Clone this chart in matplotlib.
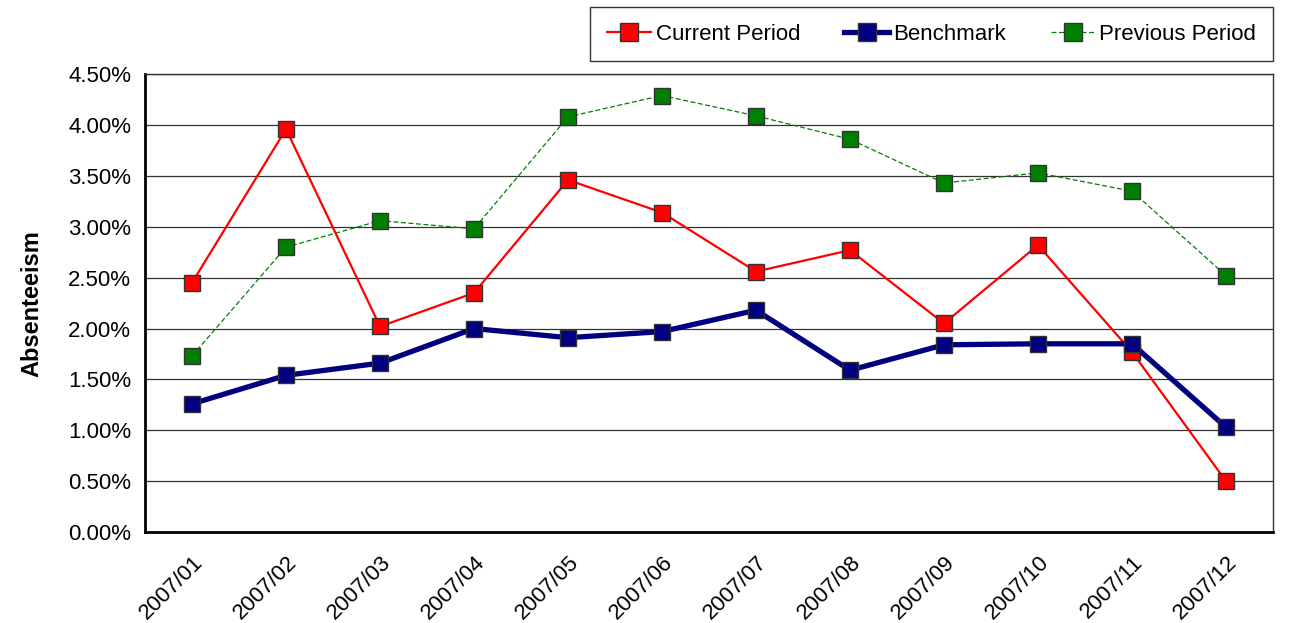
import matplotlib.pyplot as plt
from matplotlib.ticker import FuncFormatter

plt.rcParams['font.family'] = ['Liberation Sans', 'DejaVu Sans']

months = ['2007/01', '2007/02', '2007/03', '2007/04', '2007/05', '2007/06',
          '2007/07', '2007/08', '2007/09', '2007/10', '2007/11', '2007/12']
current = [2.45, 3.96, 2.02, 2.35, 3.46, 3.14, 2.56, 2.77, 2.05, 2.82, 1.77, 0.50]
benchmark = [1.26, 1.54, 1.66, 2.00, 1.91, 1.97, 2.18, 1.59, 1.84, 1.85, 1.85, 1.03]
previous = [1.73, 2.80, 3.06, 2.98, 4.08, 4.29, 4.09, 3.86, 3.43, 3.53, 3.35, 2.52]

fig = plt.figure(figsize=(12.95, 6.23), dpi=100)
ax = fig.add_axes([0.112, 0.146, 0.871, 0.735])

x = list(range(len(months)))
ax.plot(x, current, color='#ff0000', lw=1.6, marker='s', ms=12,
        mfc='#ff0000', mec='#333333', mew=1.0, label='Current Period', zorder=3)
ax.plot(x, benchmark, color='#000080', lw=3.8, marker='s', ms=12,
        mfc='#000080', mec='#333333', mew=1.0, label='Benchmark', zorder=4)
ax.plot(x, previous, color='#008000', lw=0.9, ls=(0, (4, 2)), marker='s', ms=12,
        mfc='#008000', mec='#333333', mew=1.0, label='Previous Period', zorder=2)

ax.set_xlim(-0.5, len(months) - 0.5)
ax.set_ylim(0, 4.5)
ax.set_yticks([i * 0.5 for i in range(10)])
ax.yaxis.set_major_formatter(FuncFormatter(lambda v, p: f'{v:.2f}%'))
ax.set_xticks(x)
ax.set_xticklabels(months, rotation=45, ha='right', rotation_mode='anchor')
ax.tick_params(axis='both', length=0, labelsize=16, colors='black')
ax.tick_params(axis='x', pad=14)
ax.tick_params(axis='y', pad=10)
ax.grid(axis='y', color='#333333', lw=0.9)
ax.set_axisbelow(True)

for s in ['left', 'bottom']:
    ax.spines[s].set_linewidth(2)
for s in ['right', 'top']:
    ax.spines[s].set_linewidth(1)
    ax.spines[s].set_color('#333333')

ax.set_ylabel('Absenteeism', fontsize=17, fontweight='bold', labelpad=18)

leg = fig.legend(loc='upper right', bbox_to_anchor=(0.983, 0.989), ncol=3,
                 fontsize=16, frameon=True, fancybox=False, edgecolor='black',
                 borderpad=0.75, borderaxespad=0, columnspacing=2.0,
                 handlelength=2.0, handletextpad=0.2, markerscale=1.1)
leg.get_frame().set_linewidth(1)

fig.savefig('out.png', dpi=100)
